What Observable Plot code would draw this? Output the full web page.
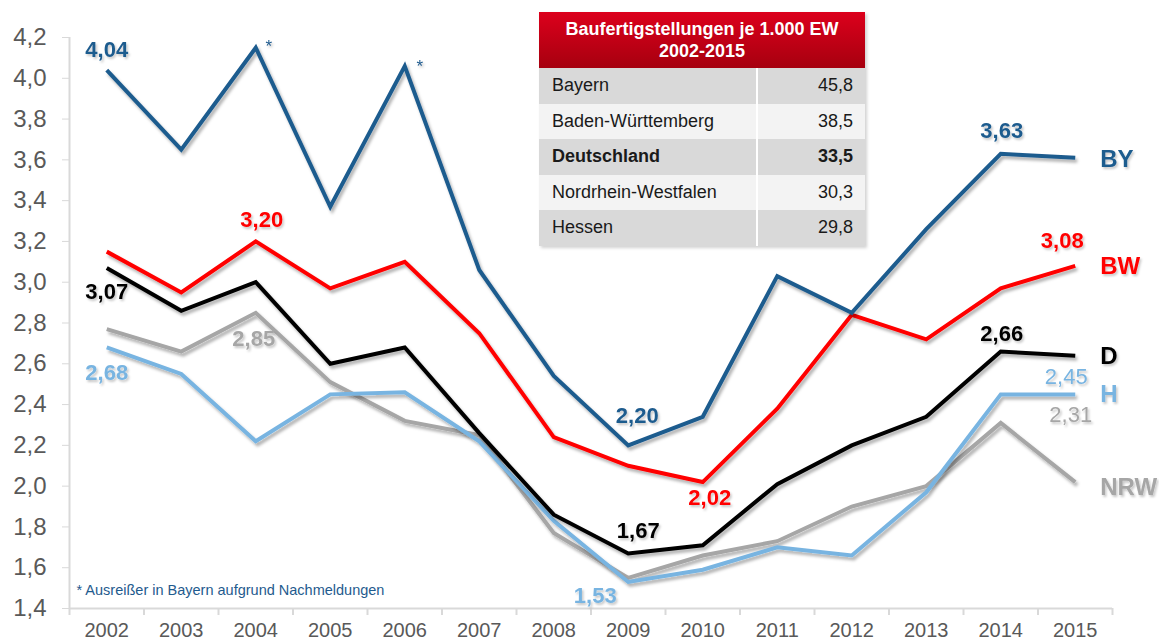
<!DOCTYPE html>
<html><head><meta charset="utf-8">
<script src="https://cdn.jsdelivr.net/npm/d3@7"></script>
<script src="https://cdn.jsdelivr.net/npm/@observablehq/plot@0.6"></script>
<style>
body{margin:0;background:#fff;font-family:"Liberation Sans",Arial,sans-serif;}
#wrap{position:relative;width:1159px;height:640px;overflow:hidden;}
#tbl{position:absolute;left:539px;top:12px;width:326px;border-collapse:collapse;table-layout:fixed;font-size:18px;color:#1a1a1a;box-shadow:2px 2px 3px rgba(0,0,0,.18);}
#tbl th{height:56px;padding:0;background:linear-gradient(#dc001c,#a6000f);color:#fff;font-weight:bold;font-size:18px;line-height:22px;text-align:center;}
#tbl td{height:35.5px;padding:0 12px 0 13px;box-sizing:border-box;}
#tbl td.v{text-align:right;border-left:2px solid #fff;}
#tbl tr.dark td{background:#d9d9d9;}
#tbl tr.light td{background:#f3f3f3;}
#tbl tr.bold td{font-weight:bold;}
</style></head>
<body><div id="wrap"></div>
<script>
// ---- data ----
const years = [2002,2003,2004,2005,2006,2007,2008,2009,2010,2011,2012,2013,2014,2015];
const BY  = [4.04,3.65,4.15,3.37,4.06,3.06,2.54,2.20,2.34,3.03,2.85,3.26,3.63,3.61];
const BW  = [3.15,2.95,3.20,2.97,3.10,2.75,2.24,2.10,2.02,2.38,2.84,2.72,2.97,3.08];
const D   = [3.07,2.86,3.00,2.60,2.68,2.26,1.86,1.67,1.71,2.01,2.20,2.34,2.66,2.64];
const NRW = [2.77,2.66,2.85,2.51,2.32,2.25,1.77,1.55,1.66,1.73,1.90,2.00,2.31,2.02];
const H   = [2.68,2.55,2.22,2.45,2.46,2.22,1.83,1.53,1.59,1.70,1.66,1.97,2.45,2.45];
const yTicks = [1.4,1.6,1.8,2.0,2.2,2.4,2.6,2.8,3.0,3.2,3.4,3.6,3.8,4.0,4.2];
const tableTitle = ["Baufertigstellungen je 1.000 EW","2002-2015"];
const tableNames = ["Bayern","Baden-Württemberg","Deutschland","Nordrhein-Westfalen","Hessen"];
const tableValues = [45.8,38.5,33.5,30.3,29.8];
const footnote = "* Ausreißer in Bayern aufgrund Nachmeldungen";

// ---- build ----
const seriesOrder = ["NRW","H","D","BW","BY"];
const seriesData = {NRW, H, D, BW, BY};
const colors = {BY:"#1f5b8e", BW:"#ff0000", D:"#000000", NRW:"#a6a6a6", H:"#78b4e1"};
const rows = [];
for (const s of seriesOrder) years.forEach((yr,i)=>rows.push({series:s, year:yr, value:seriesData[s][i]}));
const bounds = years.map(y=>y-0.5).concat([years[years.length-1]+0.5]);
const fmt2 = v => v.toFixed(2).replace(".", ",");
const fmt1 = v => v.toFixed(1).replace(".", ",");

const pick = (s, yr) => d => d.series === s && d.year === yr;
function valueLabel(s, yr, dx, dy, weight="bold") {
  return Plot.text(rows, {filter: pick(s, yr), x:"year", y:"value", text: d=>fmt2(d.value),
    dx, dy, fill: colors[s], fontSize: 22, fontWeight: weight});
}
function seriesLabel(s, dy) {
  return Plot.text(rows, {filter: pick(s, years[years.length-1]), x:"year", y:"value", text: () => s,
    dx: 25, dy, textAnchor:"start", fill: colors[s], fontSize: 24, fontWeight:"bold"});
}
function star(yr, dx, dy) {
  return Plot.text(rows, {filter: pick("BY", yr), x:"year", y:"value", text: () => "*",
    dx, dy, fill: colors.BY, fontSize: 17});
}

const chart = Plot.plot({
  width: 1159, height: 640,
  marginLeft: 69, marginRight: 47, marginTop: 37, marginBottom: 32,
  x: {domain: [bounds[0], bounds[bounds.length-1]]},
  y: {domain: [1.4, 4.2]},
  style: {fontFamily: '"Liberation Sans", Arial, sans-serif', background: "transparent", overflow: "visible"},
  marks: [
    Plot.ruleX([bounds[0]], {stroke:"#d9d9d9", strokeWidth: 2}),
    Plot.ruleY([1.4], {stroke:"#d9d9d9", strokeWidth: 2}),
    Plot.axisY({ticks: yTicks, tickFormat: fmt1, tickSize: 7, tickPadding: 16, fontSize: 24,
      stroke: "#d9d9d9", fill: "#595959", label: null}),
    Plot.axisX({ticks: bounds, tickFormat: () => "", tickSize: 7, stroke: "#d9d9d9", strokeWidth: 2, label: null}),
    Plot.axisX({ticks: years, tickFormat: d => String(d), tickSize: 0, tickPadding: 14, fontSize: 20, fill: "#595959", label: null}),
    ...seriesOrder.map(s => Plot.line(rows, {filter: d => d.series === s, x:"year", y:"value",
      stroke: colors[s], strokeWidth: 4, strokeLinejoin: "miter", strokeMiterlimit: 4, strokeLinecap: "butt"})),
    valueLabel("BY", 2002, 0, -20),
    valueLabel("D", 2002, 0, 24),
    valueLabel("H", 2002, 0, 25),
    valueLabel("BW", 2004, 6, -21),
    valueLabel("NRW", 2004, -2, 26),
    valueLabel("BY", 2009, 9, -29),
    valueLabel("D", 2009, 10, -22),
    valueLabel("H", 2009, -33, 14),
    valueLabel("BW", 2010, 7, 16),
    valueLabel("BY", 2014, 1, -23),
    valueLabel("D", 2014, 1, -18),
    valueLabel("H", 2015, -9, -17, "normal"),
    valueLabel("NRW", 2014, 70, -8, "normal"),
    valueLabel("BW", 2015, -13, -25),
    seriesLabel("BY", 1),
    seriesLabel("BW", 0),
    seriesLabel("D", 1),
    seriesLabel("H", 0),
    seriesLabel("NRW", 5),
    star(2004, 13, -1),
    star(2006, 15, 0),
    Plot.text([footnote], {frameAnchor: "bottom-left", text: d => d, dx: 7, dy: -14, textAnchor: "start",
      fill: colors.BY, fontSize: 14.5})
  ]
});

const svg = d3.select(chart);
svg.insert("defs", ":first-child").html(
  '<filter id="sh" filterUnits="userSpaceOnUse" x="0" y="0" width="1159" height="640">' +
  '<feDropShadow dx="2" dy="3" stdDeviation="1.6" flood-color="#000" flood-opacity="0.3"/></filter>' +
  '<filter id="shT" filterUnits="userSpaceOnUse" x="0" y="0" width="1159" height="640">' +
  '<feDropShadow dx="1.5" dy="2" stdDeviation="1" flood-color="#000" flood-opacity="0.22"/></filter>');
svg.selectAll('g[aria-label="line"]').attr("filter", "url(#sh)");
svg.selectAll('g[aria-label="text"]').filter(function() { return this.textContent !== footnote; }).attr("filter", "url(#shT)");

const wrap = document.getElementById("wrap");
wrap.appendChild(chart);

// table overlay
const tbl = d3.select(wrap).append("table").attr("id", "tbl");
const cg = tbl.append("colgroup");
cg.append("col").style("width", "218px");
cg.append("col").style("width", "108px");
tbl.append("tr").append("th").attr("colspan", 2).html(tableTitle.join("<br>"));
tableNames.forEach((n, i) => {
  const tr = tbl.append("tr").attr("class", (i % 2 === 0 ? "dark" : "light") + (n === "Deutschland" ? " bold" : ""));
  tr.append("td").text(n);
  tr.append("td").attr("class", "v").text(fmt1(tableValues[i]));
});
</script>
</body></html>
